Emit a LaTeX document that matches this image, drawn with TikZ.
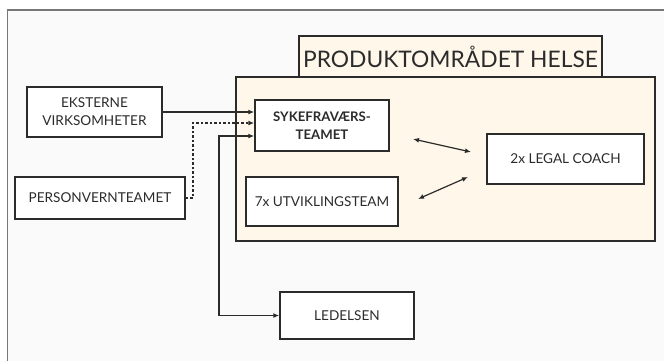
\documentclass[tikz,border=0pt]{standalone}
\usepackage{fontspec}
\setmainfont{Lato}
\usetikzlibrary{arrows.meta}
\definecolor{frameline}{HTML}{777777}
\definecolor{framebg}{HTML}{FAFAFA}
\definecolor{cream}{HTML}{FEF7EA}
\definecolor{ink}{HTML}{2B2B2B}
\tikzset{
  box/.style={draw=ink, line width=1.5pt, fill=white, inner sep=0pt, align=center,
    font=\fontsize{13.6}{18}\selectfont, text=ink},
  area/.style={draw=ink, line width=1.5pt, fill=cream, inner sep=0pt},
  conn/.style={draw=ink, line width=1.4pt, -{Latex[length=6pt,width=5pt]}},
  dconn/.style={conn, {Latex[length=6pt,width=5pt]}-{Latex[length=6pt,width=5pt]}},
  dotconn/.style={conn, dash pattern=on 2.5pt off 2pt},
}
\begin{document}
\begin{tikzpicture}[x=1pt,y=-1pt]
\useasboundingbox (0,0) rectangle (664,360);
% outer frame
\fill[framebg] (7.5,10) rectangle (670,370);
\draw[frameline, line width=1.5pt] (7.5,370) -- (7.5,10) -- (670,10);
% product area
\node[area, minimum width=303pt, minimum height=42pt, font=\fontsize{22.8}{24}\selectfont, text=ink] (title) at (450.5,57) {PRODUKTOMRÅDET HELSE};
\node[area, minimum width=419pt, minimum height=164pt] (area) at (445.5,159) {};
% boxes
\node[box, minimum width=135pt, minimum height=50pt] (eks) at (94.5,112) {EKSTERNE\\VIRKSOMHETER};
\node[box, minimum width=170pt, minimum height=42pt] (pv) at (100,198) {PERSONVERNTEAMET};
\node[box, minimum width=134pt, minimum height=51pt, font=\fontsize{13.2}{18}\selectfont\bfseries] (syke) at (322,125.5) {SYKEFRAVÆRS-\\TEAMET};
\node[box, minimum width=152pt, minimum height=49pt] (utv) at (322,201.5) {7x UTVIKLINGSTEAM};
\node[box, minimum width=157pt, minimum height=50pt] (legal) at (565.5,159) {2x LEGAL COACH};
\node[box, minimum width=134pt, minimum height=47pt] (led) at (347,315.5) {LEDELSEN};
% connectors
\draw[conn] (eks.east) -- (eks.east -| syke.west);
\coordinate (d1) at (193,198);
\coordinate (d2) at (193,123);
\draw[dotconn] (pv.east) -- (d1) -- (d2) -- (d2 -| syke.west);
\coordinate (l1) at (219,136);
\coordinate (l2) at (219,315.5);
\draw[dconn] (l1 -| syke.west) -- (l1) -- (l2) -- (led.west);
\coordinate (a1) at (413,139);
\coordinate (a2) at (471,152);
\coordinate (b1) at (418,199);
\coordinate (b2) at (468,177);
\draw[dconn, line width=1.2pt] (a1) -- (a2);
\draw[dconn, line width=1.2pt] (b1) -- (b2);
\end{tikzpicture}
\end{document}
